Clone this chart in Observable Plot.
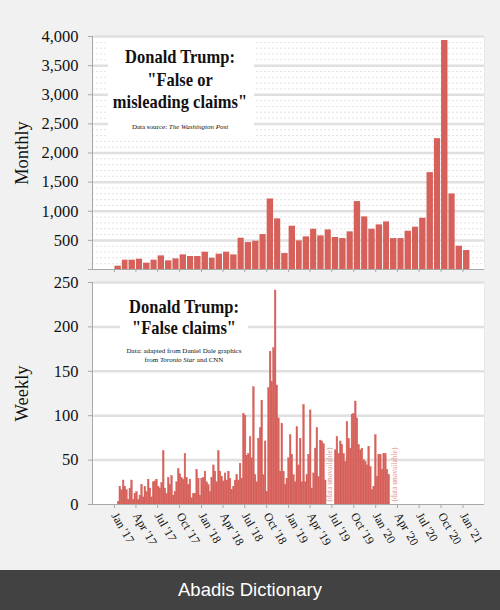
<!DOCTYPE html>
<html>
<head>
<meta charset="utf-8">
<script src="https://cdn.jsdelivr.net/npm/d3@7"></script>
<script src="https://cdn.jsdelivr.net/npm/@observablehq/plot@0.6"></script>
<style>
html, body { margin: 0; padding: 0; background: #f1f1f1; }
#wrap { position: relative; width: 500px; height: 610px; overflow: hidden; background: #f1f1f1; }
#wrap svg { position: absolute; left: 0; }
.box { position: absolute; background: #fff; }
.ln { position: absolute; width: 300px; text-align: center; line-height: 1; white-space: nowrap;
      font-family: "Liberation Serif", "Times New Roman", serif; color: #111; }
.ln.b { font-weight: bold; transform: scaleY(1.12); }
#footer { position: absolute; left: 0; top: 570px; width: 500px; height: 40px; background: #424242; color: #fff;
          font-family: "Liberation Sans", Arial, sans-serif; font-size: 18.5px; line-height: 40px; text-align: center; }
</style>
</head>
<body>
<div id="wrap"></div>
<script>
// ---------- data ----------
const monthlyStart = "2017-01-01";
const monthlyValues = [57,160,160,177,109,160,234,149,183,251,223,223,297,194,263,297,251,537,463,486,600,1211,869,274,743,491,560,691,577,680,549,531,646,1166,903,691,766,817,531,531,657,726,880,1663,2246,3931,1297,400,326];

const weeklyStartA = "2017-01-15";
const weeklyValuesA = [3,20,16,27,20,16,5,18,27,5,12,14,5,10,22,8,20,14,28,18,8,25,26,28,20,18,24,
  60,
  18,12,30,22,32,10,14,25,40,34,30,28,57,
  30,22,28,7,12,12,39,29,10,29,30,37,25,22,14,30,44,37,25,60,37,31,26,35,27,37,29,16,20,27,33,27,46,29,
  102,100,55,57,76,52,132,33,25,74,86,117,33,71,14,
  131,172,138,176,241,134,97,37,91,37,22,29,52,78,56,33,25,87,44,74,25,112,25,33,56,106,18,35,63,86,31,72,71,68,27];
const weeklyStartB = "2019-07-14";
const weeklyValuesB = [61,76,57,71,67,57,48,93,74,63,101,102,116,97,67,61,63,50,48,44,65,42,16,20,78,31,56,56,39,57,57,39,33];

const unavailableDates = ["2019-06-21", "2020-03-19"];
const unavailableText = "(data unavailable)";

const tickDates = ["2017-01-01","2017-04-01","2017-07-01","2017-10-01","2018-01-01","2018-04-01","2018-07-01","2018-10-01",
  "2019-01-01","2019-04-01","2019-07-01","2019-10-01","2020-01-01","2020-04-01","2020-07-01","2020-10-01","2021-01-01"];
const tickLabels = ["Jan '17","Apr '17","Jul '17","Oct '17","Jan '18","Apr '18","Jul '18","Oct '18",
  "Jan '19","Apr '19","Jul '19","Oct '19","Jan '20","Apr '20","Jul '20","Oct '20","Jan '21"];

const monthlyTicks = [0,500,1000,1500,2000,2500,3000,3500,4000];
const weeklyTicks = [0,50,100,150,200,250];
const xDomainStr = ["2016-10-01", "2021-04-01"];

// ---------- build ----------
const parse = s => new Date(s + "T00:00:00Z");
const xDomain = xDomainStr.map(parse);
const ticks = tickDates.map(parse);
const labelMap = new Map(ticks.map((d, i) => [+d, tickLabels[i]]));

const monthly = monthlyValues.map((v, i) => ({date: d3.utcMonth.offset(parse(monthlyStart), i), value: v}));
const weekly = [
  ...weeklyValuesA.map((v, i) => ({date: d3.utcWeek.offset(parse(weeklyStartA), i), value: v})),
  ...weeklyValuesB.map((v, i) => ({date: d3.utcWeek.offset(parse(weeklyStartB), i), value: v}))
];
const unavailable = unavailableDates.map(s => ({date: parse(s), label: unavailableText}));
const minorTop = d3.range(100, 4000, 100).filter(d => d % 500 !== 0);

const barColor = "#d6605a";
const gridColor = "#e0e0e0";
const axisColor = "#a8a8a8";
const serif = "'Liberation Serif', 'Times New Roman', serif";
const fmtK = d3.format(",");

const topPlot = Plot.plot({
  width: 500, height: 272,
  marginLeft: 92, marginRight: 16, marginTop: 36, marginBottom: 3,
  style: {background: "transparent", fontFamily: serif, color: "#111", overflow: "visible"},
  x: {type: "utc", domain: xDomain},
  y: {domain: [0, 4000]},
  marks: [
    Plot.frame({fill: "white", stroke: "#e8e8e8"}),
    Plot.ruleY(minorTop, {stroke: "#e3e3e3", strokeDasharray: "2,2", strokeWidth: 1}),
    Plot.ruleY(monthlyTicks.filter(d => d > 0), {stroke: gridColor, strokeWidth: 2.5}),
    Plot.rectY(monthly, {x: "date", y: "value", interval: d3.utcMonth, fill: barColor, insetLeft: 0.5, insetRight: 0.5}),
    Plot.axisY({ticks: monthlyTicks, tickFormat: d => d === 0 ? "" : fmtK(d), tickSize: 4, tickPadding: 10, fontSize: 16.5, stroke: axisColor, label: null}),
    Plot.axisX({ticks: ticks, tickFormat: () => "", tickSize: 3, stroke: axisColor, label: null}),
    Plot.ruleY([0], {stroke: axisColor}),
    Plot.ruleX([xDomain[0]], {stroke: axisColor}),
    Plot.text(["Monthly"], {text: d => d, frameAnchor: "left", textAnchor: "middle", dx: -70, rotate: -90, fontSize: 18.5, fill: "#111"})
  ]
});

const botPlot = Plot.plot({
  width: 500, height: 298,
  marginLeft: 92, marginRight: 16, marginTop: 10, marginBottom: 66,
  style: {background: "transparent", fontFamily: serif, color: "#111", overflow: "visible"},
  x: {type: "utc", domain: xDomain},
  y: {domain: [0, 250]},
  marks: [
    Plot.frame({fill: "white", stroke: "#e8e8e8"}),
    Plot.ruleY(weeklyTicks.filter(d => d > 0), {stroke: gridColor, strokeWidth: 2.5}),
    Plot.rectY(weekly, {x: "date", y: "value", interval: d3.utcWeek, fill: barColor, stroke: barColor, strokeWidth: 0.4, insetLeft: 0, insetRight: 0}),
    Plot.text(unavailable, {x: "date", y: 0, text: "label", rotate: -90, textAnchor: "start", dy: -3, fill: "#e39090", fontSize: 7.5}),
    Plot.axisY({ticks: weeklyTicks, tickSize: 4, tickPadding: 10, fontSize: 16.5, stroke: axisColor, label: null}),
    Plot.axisX({ticks: ticks, tickFormat: d => labelMap.get(+d), tickRotate: 60, textAnchor: "start", tickSize: 4, tickPadding: 5, fontSize: 12, stroke: axisColor, label: null}),
    Plot.ruleY([0], {stroke: axisColor}),
    Plot.ruleX([xDomain[0]], {stroke: axisColor}),
    Plot.text(["Weekly"], {text: d => d, frameAnchor: "left", textAnchor: "middle", dx: -70, rotate: -90, fontSize: 18.5, fill: "#111"})
  ]
});

const wrap = document.getElementById("wrap");
topPlot.style.top = "0px";
botPlot.style.top = "272px";
wrap.appendChild(topPlot);
wrap.appendChild(botPlot);

function box(l, t, w, h) {
  const d = document.createElement("div");
  d.className = "box";
  Object.assign(d.style, {left: l + "px", top: t + "px", width: w + "px", height: h + "px"});
  wrap.appendChild(d);
}
function line(html, cx, baseline, fs, bold) {
  const d = document.createElement("div");
  d.className = "ln" + (bold ? " b" : "");
  d.innerHTML = html;
  Object.assign(d.style, {left: (cx - 150) + "px", top: (baseline - 0.8375 * fs) + "px", fontSize: fs + "px"});
  wrap.appendChild(d);
}

box(108, 40, 146, 98);
line("Donald Trump:", 180, 63, 16.5, true);
line("\"False or", 180, 86, 16.5, true);
line("misleading claims\"", 180, 108, 16.5, true);
line("Data source: <i>The Washington Post</i>", 180, 130, 7, false);

box(120, 290, 128, 78);
line("Donald Trump:", 184, 313, 16.5, true);
line("\"False claims\"", 184, 334, 16.5, true);
line("Data: adapted from Daniel Dale graphics", 184, 354, 7, false);
line("from <i>Toronto Star</i> and CNN", 184, 362.5, 7, false);

const f = document.createElement("div");
f.id = "footer";
f.textContent = "Abadis Dictionary";
wrap.appendChild(f);
</script>
</body>
</html>
